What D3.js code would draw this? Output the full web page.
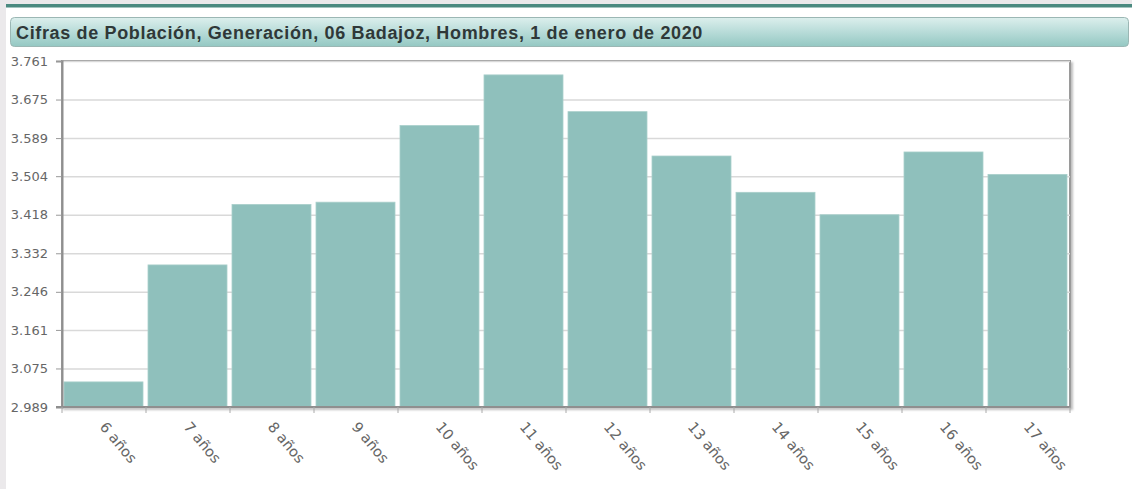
<!DOCTYPE html>
<html>
<head>
<meta charset="utf-8">
<script src="https://cdn.jsdelivr.net/npm/d3@7"></script>
<style>
  body { margin: 0; background: #fff; }
  svg { display: block; }
</style>
</head>
<body>
<div id="grafico"></div>
<script>
// Datos
const edades = ["6 años", "7 años", "8 años", "9 años", "10 años", "11 años",
                "12 años", "13 años", "14 años", "15 años", "16 años", "17 años"];
const hombres = [3045, 3306, 3441, 3446, 3617, 3730, 3648, 3549, 3468, 3418, 3558, 3508];
const ticksY = [2989, 3075, 3161, 3246, 3332, 3418, 3504, 3589, 3675, 3761];
const titulo = "Cifras de Población, Generación, 06 Badajoz, Hombres, 1 de enero de 2020";

const W = 1132, H = 489;
const margin = {top: 61, right: 62, bottom: 82, left: 62};
const width = W - margin.left - margin.right;
const height = H - margin.top - margin.bottom;

const es = d3.formatLocale({decimal: ",", thousands: ".", grouping: [3], currency: ["", "€"]});
const fmt = es.format(",d");

const root = d3.select("#grafico").append("svg")
    .attr("width", W)
    .attr("height", H);

const defs = root.append("defs");
const grad = defs.append("linearGradient")
    .attr("id", "gradTitulo").attr("x1", 0).attr("y1", 0).attr("x2", 0).attr("y2", 1);
grad.append("stop").attr("offset", "0%").attr("stop-color", "#dcefed");
grad.append("stop").attr("offset", "100%").attr("stop-color", "#94c8c3");

const sombra = defs.append("filter").attr("id", "sombra")
    .attr("x", "-5%").attr("y", "-5%").attr("width", "110%").attr("height", "120%");
sombra.append("feDropShadow").attr("dx", 2).attr("dy", 2).attr("stdDeviation", 1.2)
    .attr("flood-color", "#000").attr("flood-opacity", 0.25);

// fondo de la pagina
root.append("rect").attr("width", W).attr("height", H).attr("fill", "#ebe9eb");
root.append("rect").attr("x", 6).attr("y", 4).attr("width", W - 6).attr("height", H - 4).attr("fill", "#fff");
root.append("rect").attr("x", 6).attr("y", 4).attr("width", W - 6).attr("height", 3.5).attr("fill", "#4b8a80");

// caja del titulo
root.append("rect")
    .attr("x", 10.5).attr("y", 17.5).attr("width", 1118).attr("height", 29)
    .attr("rx", 4)
    .attr("fill", "url(#gradTitulo)")
    .attr("stroke", "#9bb7b4");
root.append("text")
    .attr("x", 16).attr("y", 38.5)
    .attr("font-family", "Liberation Sans, Arial, sans-serif")
    .attr("font-weight", "bold")
    .attr("font-size", 18)
    .attr("letter-spacing", 0.65)
    .attr("fill", "#2f3838")
    .text(titulo);

const svg = root.append("g")
    .attr("transform", "translate(" + margin.left + "," + margin.top + ")");

const xScale = d3.scaleBand()
    .domain(edades)
    .range([0, width]);

const yScale = d3.scaleLinear()
    .domain([ticksY[0], ticksY[ticksY.length - 1]])
    .range([height, 0]);

// marco con sombra
svg.append("rect")
    .attr("width", width).attr("height", height)
    .attr("fill", "#fff")
    .attr("stroke", "#9a9a9a")
    .attr("stroke-width", 2)
    .attr("filter", "url(#sombra)");

// rejilla
svg.append("g")
    .attr("class", "grid")
    .call(d3.axisLeft(yScale).tickValues(ticksY).tickSize(-width).tickFormat(""))
    .call(g => g.select(".domain").remove())
    .call(g => g.selectAll("line").attr("stroke", "#d9d9d9").attr("stroke-width", 1.5));

// barras
svg.selectAll(".bar")
    .data(hombres)
    .enter()
    .append("rect")
    .attr("class", "bar")
    .attr("x", (d, i) => xScale(edades[i]) + 2)
    .attr("y", d => yScale(d))
    .attr("width", xScale.bandwidth() - 5)
    .attr("height", d => height - yScale(d))
    .attr("fill", "#8fc0bc")
    .attr("stroke", "#a9cfcb")
    .attr("stroke-width", 0.8);

// eje Y
const ejeY = svg.append("g")
    .call(d3.axisLeft(yScale).tickValues(ticksY).tickSize(6).tickPadding(8).tickFormat(fmt));
ejeY.select(".domain").attr("stroke", "#8f8f8f").attr("stroke-width", 2);
ejeY.selectAll(".tick line").attr("stroke", "#999");
ejeY.selectAll("text")
    .attr("font-family", "DejaVu Sans, Verdana, sans-serif")
    .attr("font-size", 13)
    .attr("fill", "#666");

// eje X: marcas en los limites de cada banda
const ejeX = svg.append("g")
    .attr("transform", "translate(0," + height + ")");
ejeX.append("line")
    .attr("x1", -6).attr("x2", width)
    .attr("stroke", "#8f8f8f").attr("stroke-width", 2);
ejeX.selectAll(".marca")
    .data(edades.concat(["fin"]))
    .enter()
    .append("line")
    .attr("x1", (d, i) => i < edades.length ? xScale(d) : width)
    .attr("x2", (d, i) => i < edades.length ? xScale(d) : width)
    .attr("y1", 0).attr("y2", 6)
    .attr("stroke", "#aaa");
ejeX.selectAll(".etiqueta")
    .data(edades)
    .enter()
    .append("text")
    .attr("transform", d => "translate(" + (xScale(d) + xScale.bandwidth() / 2 - 1) + ",17)rotate(50)")
    .attr("font-family", "DejaVu Sans, Verdana, sans-serif")
    .attr("font-size", 14.5)
    .attr("fill", "#666")
    .attr("dy", "0.35em")
    .text(d => d);
</script>
</body>
</html>
